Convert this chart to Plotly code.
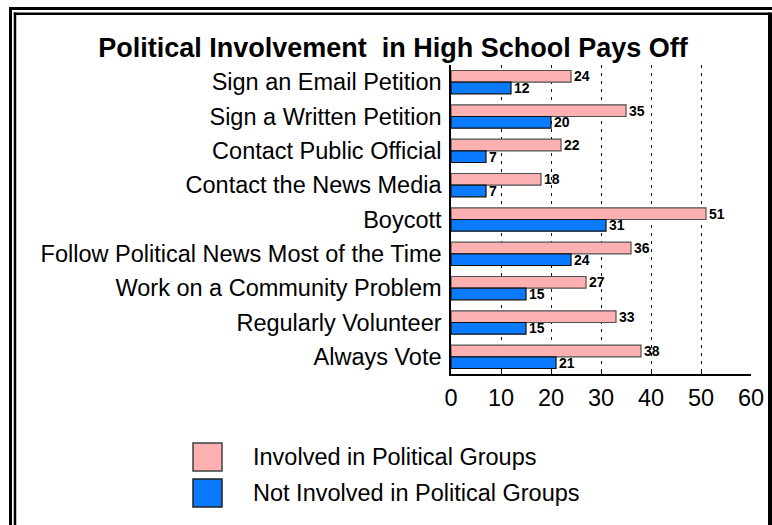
import plotly.graph_objects as go

categories = [
    "Sign an Email Petition",
    "Sign a Written Petition",
    "Contact Public Official",
    "Contact the News Media",
    "Boycott",
    "Follow Political News Most of the Time",
    "Work on a Community Problem",
    "Regularly Volunteer",
    "Always Vote",
]
involved = [24, 35, 22, 18, 51, 36, 27, 33, 38]
not_involved = [12, 20, 7, 7, 31, 24, 15, 15, 21]
series_names = ["Involved in Political Groups", "Not Involved in Political Groups"]
x_ticks = [0, 10, 20, 30, 40, 50, 60]

PINK = "#FFB0B0"
BLUE = "#0A7AFF"
FONT = "Liberation Sans, Arial"
W, H = 772, 525
L, R, T, B = 451, 21, 65, 151
PW, PH = W - L - R, H - T - B

def px(x):
    return (x - L) / PW

def py(y):
    return (H - B - y) / PH

label_font = dict(family=FONT, size=14, color="black", weight="bold")

fig = go.Figure()
fig.add_trace(go.Bar(
    y=categories, x=involved, orientation="h", name=series_names[0],
    marker=dict(color=PINK, line=dict(color="#505050", width=1.2)),
    text=involved, textposition="outside", cliponaxis=False, constraintext="none",
    textfont=label_font, showlegend=False, hoverinfo="skip",
))
fig.add_trace(go.Bar(
    y=categories, x=not_involved, orientation="h", name=series_names[1],
    marker=dict(color=BLUE, line=dict(color="#101010", width=1.2)),
    text=not_involved, textposition="outside", cliponaxis=False, constraintext="none",
    textfont=label_font, showlegend=False, hoverinfo="skip",
))

shapes = []
# frame: left double line, top double line, right line
shapes.append(dict(type="line", xref="paper", yref="paper", x0=px(10.5), x1=px(10.5), y0=py(7), y1=py(530), line=dict(color="black", width=3)))
shapes.append(dict(type="line", xref="paper", yref="paper", x0=px(15), x1=px(15), y0=py(12.5), y1=py(530), line=dict(color="black", width=2.5)))
shapes.append(dict(type="line", xref="paper", yref="paper", x0=px(9), x1=px(780), y0=py(8.5), y1=py(8.5), line=dict(color="black", width=3)))
shapes.append(dict(type="line", xref="paper", yref="paper", x0=px(13.8), x1=px(770), y0=py(13.8), y1=py(13.8), line=dict(color="black", width=2.5)))
shapes.append(dict(type="line", xref="paper", yref="paper", x0=px(770), x1=px(770), y0=py(12.5), y1=py(530), line=dict(color="black", width=4)))
# legend swatches
shapes.append(dict(type="rect", xref="paper", yref="paper", x0=px(193), x1=px(222), y0=py(443), y1=py(471), fillcolor=PINK, line=dict(color="#404040", width=1.5)))
shapes.append(dict(type="rect", xref="paper", yref="paper", x0=px(193), x1=px(222), y0=py(479), y1=py(507), fillcolor=BLUE, line=dict(color="#202020", width=1.5)))

annotations = [
    dict(text=series_names[0], xref="paper", yref="paper", x=px(251), y=py(457), xanchor="left", yanchor="middle",
         showarrow=False, font=dict(family=FONT, size=23.5, color="black")),
    dict(text=series_names[1], xref="paper", yref="paper", x=px(251), y=py(493), xanchor="left", yanchor="middle",
         showarrow=False, font=dict(family=FONT, size=23.5, color="black")),
]

fig.update_layout(
    width=W, height=H,
    margin=dict(l=L, r=R, t=T, b=B, pad=0, autoexpand=False),
    paper_bgcolor="white", plot_bgcolor="white",
    barmode="group", bargap=0.32, bargroupgap=0.0,
    title=dict(text="<b>Political Involvement  in High School Pays Off</b>", x=393 / W, xanchor="center",
               y=1 - 48 / H, yanchor="middle",
               font=dict(family=FONT, size=27, color="black")),
    font=dict(family=FONT, color="black"),
    xaxis=dict(range=[0, 60], tickvals=x_ticks, showgrid=True, gridcolor="black", gridwidth=1,
               griddash="3px,5px", zeroline=False, showline=True, linecolor="black", linewidth=1.5,
               ticks="inside", ticklen=3, tickcolor="black", automargin=False,
               tickfont=dict(size=23.5, family=FONT), ticklabelstandoff=2),
    yaxis=dict(autorange="reversed", showline=True, linecolor="black", linewidth=1.5, ticks="",
               showgrid=False, automargin=False, tickfont=dict(size=23.5, family=FONT), ticklabelstandoff=3),
    shapes=shapes, annotations=annotations, showlegend=False,
)

fig.write_html("out.html", config={"displayModeBar": False},
               post_script="document.body.style.margin='0';document.body.style.overflow='hidden';")
